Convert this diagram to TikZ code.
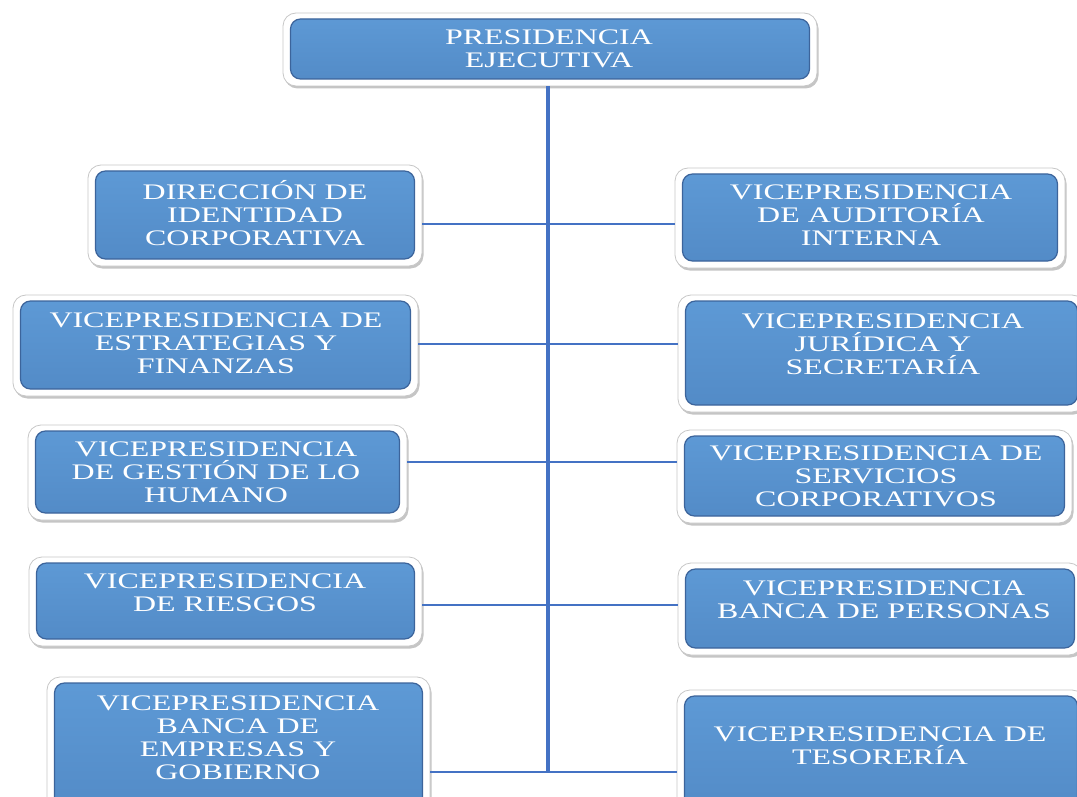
\documentclass[tikz,border=0pt]{standalone}
\usepackage{fontspec}
\setmainfont{Liberation Serif}[FakeStretch=1.44]
\usetikzlibrary{shadows}
\definecolor{boxtop}{RGB}{94,154,214}
\definecolor{boxbot}{RGB}{82,138,198}
\definecolor{boxedge}{RGB}{60,100,155}
\definecolor{linkblue}{RGB}{68,114,196}
\tikzset{
  orgbox/.style={rounded corners=13pt, fill=white, draw=black!22, line width=0.8pt,
    inner sep=0pt, drop shadow={fill=black!45, opacity=0.5, shadow xshift=1.5pt, shadow yshift=-2.5pt},
    path picture={
      \draw[rounded corners=10pt, top color=boxtop, bottom color=boxbot, draw=boxedge, line width=1.2pt]
        ([xshift=7.5pt,yshift=-6pt]path picture bounding box.north west) rectangle
        ([xshift=-7.5pt,yshift=7pt]path picture bounding box.south east);
    }},
  orgtext/.style={text=white, align=center, inner sep=0pt, font=\fontsize{22.2}{23}\selectfont},
  link/.style={draw=linkblue, line width=2.8pt},
}
\begin{document}
\begin{tikzpicture}[x=1pt,y=-1pt]
\useasboundingbox (0,0) rectangle (1077,797);
\fill[white] (0,0) rectangle (1077,797);

% boxes
\node[orgbox, minimum width=534, minimum height=73] (P) at (550,49.5) {};
\node[orgbox, minimum width=334, minimum height=101] (L1) at (255,215.5) {};
\node[orgbox, minimum width=405, minimum height=101] (L2) at (215.5,345.5) {};
\node[orgbox, minimum width=379, minimum height=95] (L3) at (217.5,472.5) {};
\node[orgbox, minimum width=393, minimum height=89] (L4) at (225.5,601.5) {};
\node[orgbox, minimum width=383, minimum height=143] (L5) at (238.5,748.5) {};
\node[orgbox, minimum width=390, minimum height=100] (R1) at (870,218) {};
\node[orgbox, minimum width=407, minimum height=117] (R2) at (881.5,353.5) {};
\node[orgbox, minimum width=395, minimum height=93] (R3) at (874.5,476.5) {};
\node[orgbox, minimum width=404, minimum height=92] (R4) at (880,609) {};
\node[orgbox, minimum width=408, minimum height=130] (R5) at (881,755) {};

% texts
\node[orgtext] (tP) at (549,49) {PRESIDENCIA\\EJECUTIVA};
\node[orgtext] (tL1) at (255,213) {DIRECCIÓN DE\\IDENTIDAD\\CORPORATIVA};
\node[orgtext] (tL2) at (216,343) {VICEPRESIDENCIA DE\\ESTRATEGIAS Y\\FINANZAS};
\node[orgtext] (tL3) at (216,472) {VICEPRESIDENCIA\\DE GESTIÓN DE LO\\HUMANO};
\node[orgtext] (tL4) at (225,592.5) {VICEPRESIDENCIA\\DE RIESGOS};
\node[orgtext] (tL5) at (238,738) {VICEPRESIDENCIA\\BANCA DE\\EMPRESAS Y\\GOBIERNO};
\node[orgtext] (tR1) at (871,215) {VICEPRESIDENCIA\\DE AUDITORÍA\\INTERNA};
\node[orgtext] (tR2) at (883,344) {VICEPRESIDENCIA\\JURÍDICA Y\\SECRETARÍA};
\node[orgtext] (tR3) at (876,476) {VICEPRESIDENCIA DE\\SERVICIOS\\CORPORATIVOS};
\node[orgtext] (tR4) at (884,600) {VICEPRESIDENCIA\\BANCA DE PERSONAS};
\node[orgtext] (tR5) at (880,746) {VICEPRESIDENCIA DE\\TESORERÍA};

% connectors
\coordinate (vbot) at (548,773);
\coordinate (r1) at (548,224);
\coordinate (r2) at (548,344);
\coordinate (r3) at (548,462);
\coordinate (r4) at (548,605);
\coordinate (r5) at (548,772);
\draw[link, line width=3.4pt] (P.south -| vbot) -- (vbot);
\draw[link] (L1.east |- r1) -- (R1.west |- r1);
\draw[link] (L2.east |- r2) -- (R2.west |- r2);
\draw[link] (L3.east |- r3) -- (R3.west |- r3);
\draw[link] (L4.east |- r4) -- (R4.west |- r4);
\draw[link] (L5.east |- r5) -- (R5.west |- r5);
\end{tikzpicture}
\end{document}
